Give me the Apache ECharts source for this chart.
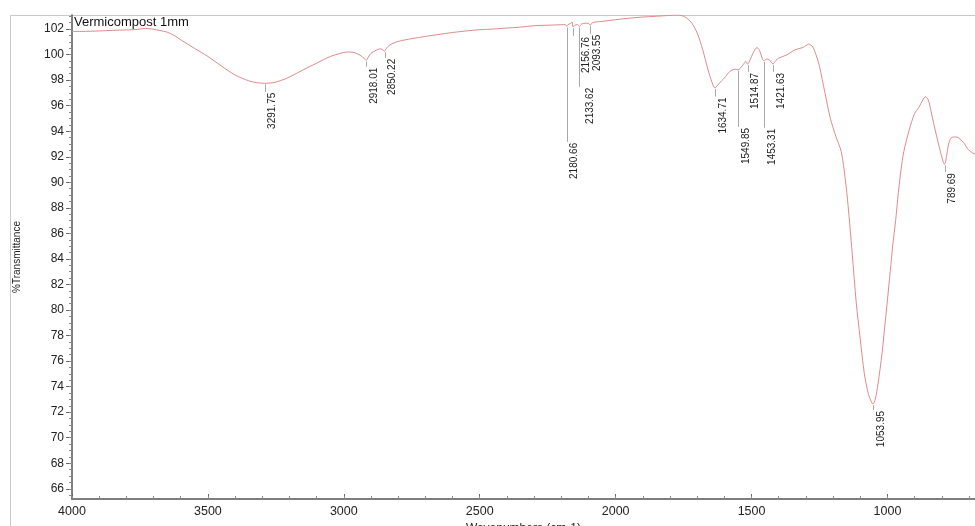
<!DOCTYPE html>
<html>
<head>
<meta charset="utf-8">
<script src="https://cdn.jsdelivr.net/npm/echarts@6/dist/echarts.min.js"></script>
<style>
html,body{margin:0;padding:0;background:#fff;}
#c{width:975px;height:526px;}
</style>
</head>
<body>
<div id="c"></div>
<script>
// ---- data ----
const wavenumbers = [4000,3950,3900,3850,3800,3760,3730,3700,3680,3650,3620,3600,3550,3500,3450,3400,3350,3320,3291.75,3260,3230,3200,3150,3100,3050,3020,3000,2980,2960,2940,2925,2918.01,2910,2900,2880,2865,2855,2850.22,2845,2830,2800,2750,2700,2650,2600,2550,2500,2450,2400,2350,2300,2250,2200,2185,2180.66,2175,2165,2160,2156.76,2150,2140,2133.62,2125,2110,2100,2093.55,2085,2050,2000,1950,1900,1850,1800,1770,1750,1735,1720,1700,1680,1660,1645,1634.71,1625,1610,1600,1580,1560,1549.85,1535,1520,1514.87,1505,1495,1480,1470,1460,1453.31,1445,1435,1421.63,1410,1400,1370,1340,1310,1290,1275,1260,1250,1230,1210,1190,1170,1155,1145,1130,1115,1100,1085,1070,1060,1053.95,1045,1035,1020,1010,1000,990,980,970,960,950,940,920,900,885,870,860,850,840,830,810,795,789.69,783,775,765,750,740,720,700,678];
const transmittance = [101.8,101.82,101.85,101.9,101.93,101.97,102.05,101.98,101.9,101.76,101.45,101.16,100.5,99.85,99.1,98.4,97.95,97.8,97.75,97.8,97.98,98.24,98.8,99.33,99.85,100.05,100.17,100.2,100.15,99.95,99.7,99.55,99.8,100.1,100.35,100.45,100.35,100.25,100.45,100.77,101.03,101.25,101.42,101.58,101.73,101.85,101.95,102.0,102.08,102.15,102.26,102.3,102.34,102.35,102.2,102.35,102.45,102.55,102.15,102.3,102.35,102.2,102.4,102.45,102.45,102.3,102.5,102.6,102.73,102.85,102.94,103.0,103.07,103.1,103.0,102.8,102.47,101.69,100.4,98.8,97.8,97.38,97.6,97.95,98.16,98.68,98.86,98.8,99.1,99.46,99.25,99.6,100.1,100.55,100.3,99.65,99.5,99.65,99.6,99.28,99.55,99.73,99.98,100.38,100.56,100.82,100.6,99.8,99.07,97.0,95.0,93.6,92.4,90.2,88.2,84.5,80.6,77.7,75.0,73.4,72.85,72.63,73.0,74.2,76.6,78.7,80.8,83.0,85.2,87.0,89.2,91.0,92.4,94.1,95.4,95.85,96.45,96.7,96.45,95.6,94.6,92.8,91.6,91.4,92.0,93.0,93.5,93.55,93.5,93.1,92.5,92.2];

const peakWavenumbers = [3291.75,2918.01,2850.22,2180.66,2156.76,2133.62,2093.55,1634.71,1549.85,1514.87,1453.31,1421.63,1053.95,789.69];
const peakValues      = [97.75,99.55,100.25,102.2,102.15,102.2,102.3,97.38,98.8,99.25,99.5,99.28,72.63,91.4];
// where each label leader line ends (in %T units)
const peakLabelEnds   = [97.09,99.05,99.75,93.17,101.47,97.48,101.63,96.72,94.34,98.65,94.27,98.65,72.17,90.8];

const xMajorTicks = [1000,1500,2000,2500,3000,3500,4000];
const yMajorTicks = [66,68,70,72,74,76,78,80,82,84,86,88,90,92,94,96,98,100,102];
const xMinorTicks = [];
for (let v = 700; v <= 4000; v += 100) xMinorTicks.push(v);
const yMinorTicks = [];
for (let v = 65.5; v <= 103; v += 0.5) yMinorTicks.push(v);

// ---- layout / style ----
const labelDx = [3,3,3,3,8,6,2,3,3,3,3,3,3,3];
const FONT = "'Liberation Sans', Arial, sans-serif";

const lineData = wavenumbers.map((w, i) => [w, transmittance[i]]);
const peakData = peakWavenumbers.map((w, i) => [w, peakValues[i], peakLabelEnds[i], labelDx[i]]);

const chart = echarts.init(document.getElementById('c'), null, {renderer: 'canvas'});
const X_MIN = 678, X_MAX = 4000, Y_MIN = 65.2, Y_MAX = 103.1;

chart.setOption({
  animation: false,
  backgroundColor: '#fff',
  title: {
    text: 'Vermicompost 1mm',
    left: 74, top: 15, padding: [1, 0, 0, 0],
    textStyle: {fontSize: 13, fontWeight: 'normal', color: '#111', fontFamily: FONT}
  },
  graphic: [{
    type: 'rect', z: -1, silent: true,
    shape: {x: 10.5, y: 15.5, width: 980, height: 530},
    style: {fill: 'none', stroke: '#c8c8c8', lineWidth: 1}
  }],
  grid: {left: 72, right: 0, top: 15, bottom: 27, containLabel: false, outerBoundsMode: 'none'},
  xAxis: [{
    type: 'value', min: X_MIN, max: X_MAX, inverse: true, position: 'bottom',
    name: 'Wavenumbers (cm-1)', nameLocation: 'middle', nameGap: 21,
    nameTextStyle: {fontSize: 12, color: '#222', fontFamily: FONT},
    axisLine: {show: true, lineStyle: {color: '#555', width: 1.5}},
    axisTick: {show: true, inside: true, length: 5, customValues: xMajorTicks, lineStyle: {color: '#666'}},
    axisLabel: {customValues: xMajorTicks, formatter: v => String(v), fontSize: 12.5, color: '#222', fontFamily: FONT, margin: 6},
    splitLine: {show: false}
  }, {
    type: 'value', min: X_MIN, max: X_MAX, inverse: true, position: 'bottom',
    axisLine: {show: false},
    axisTick: {show: true, inside: true, length: 3, customValues: xMinorTicks, lineStyle: {color: '#888'}},
    axisLabel: {show: true, customValues: xMinorTicks, formatter: () => ''},
    splitLine: {show: false}
  }],
  yAxis: [{
    type: 'value', min: Y_MIN, max: Y_MAX, position: 'left',
    name: '%Transmittance', nameLocation: 'middle', nameGap: 50, nameRotate: 90,
    nameTextStyle: {fontSize: 10, color: '#222', fontFamily: FONT},
    axisLine: {show: true, lineStyle: {color: '#555', width: 1.5}},
    axisTick: {show: true, inside: false, length: 6, customValues: yMajorTicks, lineStyle: {color: '#666'}},
    axisLabel: {customValues: yMajorTicks, fontSize: 12, color: '#222', fontFamily: FONT, margin: 8},
    splitLine: {show: false}
  }, {
    type: 'value', min: Y_MIN, max: Y_MAX, position: 'left',
    axisLine: {show: false},
    axisTick: {show: true, inside: false, length: 3, customValues: yMinorTicks, lineStyle: {color: '#888'}},
    axisLabel: {show: true, customValues: yMinorTicks, formatter: () => ''},
    splitLine: {show: false}
  }],
  series: [{
    type: 'line', name: 'Vermicompost 1mm',
    xAxisIndex: 0, yAxisIndex: 0,
    data: lineData, showSymbol: false, smooth: 0.3,
    lineStyle: {color: '#e08a8a', width: 1},
    clip: true
  }, {
    type: 'custom', name: 'peaks',
    xAxisIndex: 0, yAxisIndex: 0,
    data: peakData,
    clip: false,
    renderItem: function (params, api) {
      const p = api.coord([api.value(0), api.value(1)]);
      const e = api.coord([api.value(0), api.value(2)]);
      const dx = api.value(3);
      const txt = peakWavenumbers[params.dataIndex].toFixed(2);
      return {
        type: 'group',
        children: [{
          type: 'line',
          shape: {x1: Math.round(p[0]) + 0.5, y1: p[1] + 1, x2: Math.round(p[0]) + 0.5, y2: e[1]},
          style: {stroke: '#a8a8a8', lineWidth: 1}
        }, {
          type: 'text',
          x: p[0] + dx, y: e[1] + 1,
          rotation: Math.PI / 2,
          style: {text: txt, align: 'right', verticalAlign: 'top', fontSize: 10, fontFamily: FONT, fill: '#222'}
        }]
      };
    }
  }]
});
</script>
</body>
</html>
